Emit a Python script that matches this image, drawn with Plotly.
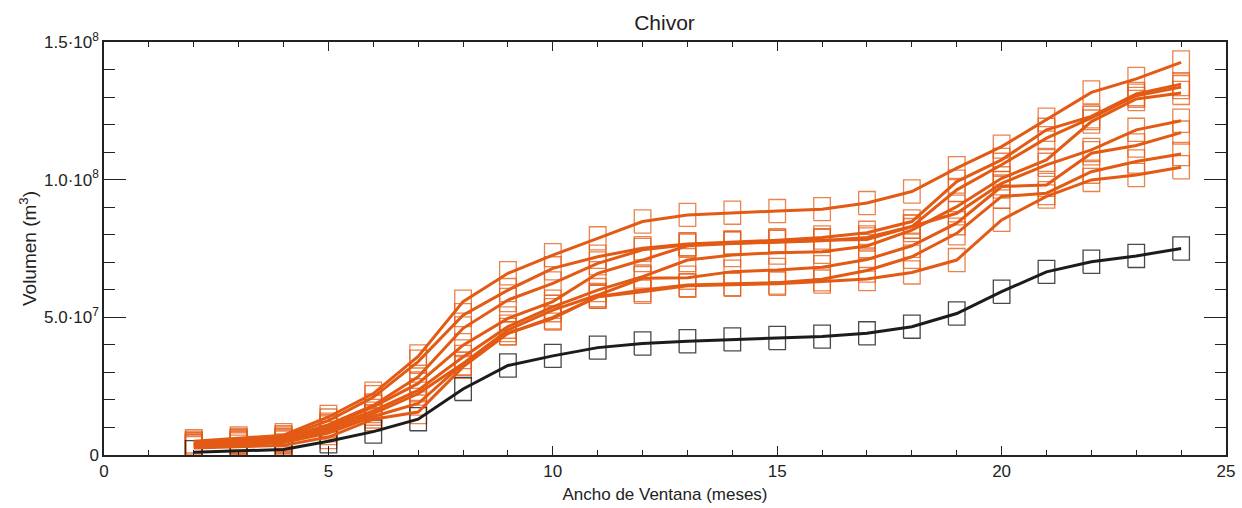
import plotly.graph_objects as go

# Window width (months)
window = list(range(2, 25))

# Stored volume (m^3) per scenario
vol_1 = [5.0e6, 6.0e6, 7.2e6, 1.38e7, 2.23e7, 3.58e7, 5.57e7, 6.60e7, 7.26e7, 7.87e7, 8.48e7, 8.72e7,
         8.80e7, 8.86e7, 8.93e7, 9.15e7, 9.57e7, 1.042e8, 1.12e8, 1.218e8, 1.317e8, 1.366e8, 1.426e8]
vol_2 = [4.5e6, 5.5e6, 6.5e6, 1.25e7, 2.10e7, 3.39e7, 5.08e7, 5.99e7, 6.78e7, 7.20e7, 7.51e7, 7.66e7,
         7.72e7, 7.80e7, 7.90e7, 8.07e7, 8.48e7, 9.93e7, 1.072e8, 1.181e8, 1.230e8, 1.311e8, 1.347e8]
vol_3 = [4.0e6, 5.0e6, 6.0e6, 1.10e7, 1.80e7, 2.84e7, 4.60e7, 5.63e7, 6.23e7, 6.96e7, 7.45e7, 7.64e7,
         7.70e7, 7.76e7, 7.80e7, 7.83e7, 8.29e7, 9.63e7, 1.054e8, 1.151e8, 1.224e8, 1.305e8, 1.336e8]
vol_4 = [3.5e6, 4.5e6, 5.2e6, 1.00e7, 1.60e7, 2.35e7, 3.56e7, 4.66e7, 5.38e7, 5.99e7, 6.48e7, 7.08e7,
         7.26e7, 7.35e7, 7.38e7, 7.59e7, 8.17e7, 9.02e7, 1.005e8, 1.072e8, 1.211e8, 1.293e8, 1.315e8]
vol_5 = [3.8e6, 4.8e6, 5.5e6, 1.05e7, 1.75e7, 2.60e7, 3.99e7, 4.96e7, 5.57e7, 6.60e7, 7.08e7, 7.60e7,
         7.68e7, 7.74e7, 7.78e7, 7.90e7, 8.30e7, 8.78e7, 9.87e7, 1.054e8, 1.108e8, 1.181e8, 1.214e8]
vol_6 = [3.2e6, 4.2e6, 4.8e6, 9.0e6, 1.50e7, 2.23e7, 3.32e7, 4.54e7, 5.26e7, 5.81e7, 6.42e7, 6.44e7,
         6.66e7, 6.72e7, 6.82e7, 7.10e7, 7.60e7, 8.42e7, 9.75e7, 9.81e7, 1.096e8, 1.124e8, 1.171e8]
vol_7 = [3.0e6, 3.8e6, 4.5e6, 8.0e6, 1.40e7, 1.87e7, 3.32e7, 4.42e7, 5.00e7, 5.75e7, 5.99e7, 6.17e7,
         6.21e7, 6.26e7, 6.38e7, 6.70e7, 7.20e7, 8.05e7, 9.39e7, 9.51e7, 1.029e8, 1.066e8, 1.093e8]
vol_8 = [2.5e6, 3.0e6, 3.5e6, 6.5e6, 1.30e7, 1.56e7, 3.20e7, 4.42e7, 4.96e7, 5.75e7, 5.93e7, 6.15e7,
         6.18e7, 6.22e7, 6.30e7, 6.39e7, 6.63e7, 7.08e7, 8.54e7, 9.39e7, 9.99e7, 1.017e8, 1.045e8]
vol_ref = [1.0e6, 1.5e6, 2.0e6, 5.0e6, 8.5e6, 1.30e7, 2.40e7, 3.25e7, 3.60e7, 3.90e7, 4.05e7, 4.13e7,
           4.20e7, 4.25e7, 4.30e7, 4.42e7, 4.66e7, 5.14e7, 5.93e7, 6.65e7, 7.02e7, 7.23e7, 7.50e7]

orange_series = [vol_1, vol_2, vol_3, vol_4, vol_5, vol_6, vol_7, vol_8]

y_tickvals = [0, 5.0e7, 1.0e8, 1.5e8]
y_ticktext = ["0", "5.0·10<sup>7</sup>", "1.0·10<sup>8</sup>", "1.5·10<sup>8</sup>"]

ORANGE = "#E35A14"
BLACK = "#1c1c1c"
FONT = "Liberation Sans Narrow, Liberation Sans, Arial, sans-serif"

# open rectangular markers, half sizes in data units
HW, HH = 0.185, 4.2e6


def box_outline(xs, ys):
    px, py = [], []
    for a, b in zip(xs, ys):
        px += [a - HW, a + HW, a + HW, a - HW, a - HW, None]
        py += [b - HH, b - HH, b + HH, b + HH, b - HH, None]
    return px, py


fig = go.Figure()

for ys in orange_series:
    bx, by = box_outline(window, ys)
    fig.add_trace(go.Scatter(x=bx, y=by, mode="lines", showlegend=False, hoverinfo="skip",
                             line=dict(color=ORANGE, width=1.3), opacity=0.75))
bx, by = box_outline(window, vol_ref)
fig.add_trace(go.Scatter(x=bx, y=by, mode="lines", showlegend=False, hoverinfo="skip",
                         line=dict(color=BLACK, width=1.3), opacity=0.8))

for ys in orange_series:
    fig.add_trace(go.Scatter(x=window, y=ys, mode="lines", showlegend=False,
                             line=dict(color=ORANGE, width=3)))
fig.add_trace(go.Scatter(x=window, y=vol_ref, mode="lines", showlegend=False,
                         line=dict(color=BLACK, width=3)))

fig.update_layout(
    width=1242, height=508,
    margin=dict(l=104, r=16, t=42, b=53),
    paper_bgcolor="white", plot_bgcolor="white",
    font=dict(family=FONT, size=16, color="#222"),
    title=dict(text="Chivor", x=0.535, xanchor="center", y=0.955, yanchor="middle",
               font=dict(family=FONT, size=21, color="#222")),
    showlegend=False,
)

fig.update_xaxes(
    automargin=False,
    range=[0, 25], tickvals=[0, 5, 10, 15, 20, 25], ticks="inside", ticklen=9, tickwidth=1.3,
    tickcolor="#222", showgrid=False, zeroline=False, showline=True, linecolor="#222",
    linewidth=1.5, mirror="ticks",
    minor=dict(dtick=1, ticks="inside", ticklen=5, tickwidth=1.2, tickcolor="#222", showgrid=False),
    title=dict(text="Ancho de Ventana (meses)", standoff=8, font=dict(family=FONT, size=17)),
    tickfont=dict(family=FONT, size=17),
)
fig.update_yaxes(
    automargin=False,
    range=[0, 1.5e8], tickvals=y_tickvals, ticktext=y_ticktext, ticks="inside", ticklen=22,
    tickwidth=1.3, tickcolor="#222", showgrid=False, zeroline=False, showline=True,
    linecolor="#222", linewidth=1.5, mirror="ticks",
    minor=dict(dtick=1e7, tick0=0, ticks="inside", ticklen=11, tickwidth=1.2, tickcolor="#222",
               showgrid=False),
    title=dict(text="Volumen (m<sup>3</sup>)", standoff=2, font=dict(family=FONT, size=19)),
    tickfont=dict(family=FONT, size=17),
)

fig.write_html("out.html")
